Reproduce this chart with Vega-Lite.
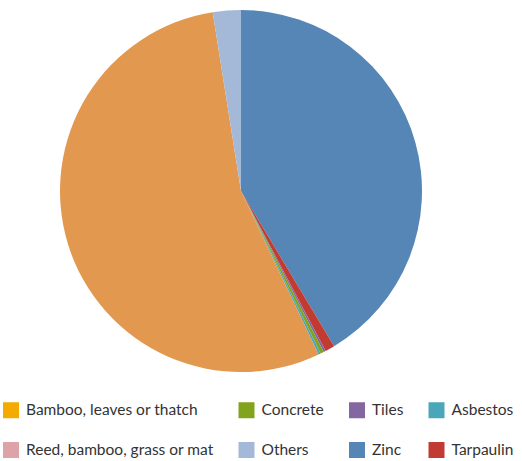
{
  "$schema": "https://vega.github.io/schema/vega-lite/v6.json",
  "width": 482,
  "height": 382,
  "padding": {"left": 0, "top": 0, "right": 40, "bottom": 79},
  "autosize": {"type": "none"},
  "background": "white",
  "data": {"values": [
    {"material": "Zinc", "share": 41.4, "ord": 1},
    {"material": "Tarpaulin", "share": 0.85, "ord": 2},
    {"material": "Tiles", "share": 0.2, "ord": 3},
    {"material": "Concrete", "share": 0.3, "ord": 4},
    {"material": "Asbestos", "share": 0.2, "ord": 5},
    {"material": "Bamboo, leaves or thatch", "share": 0.0, "ord": 6},
    {"material": "Reed, bamboo, grass or mat", "share": 0.0, "ord": 7},
    {"material": "Unlabelled", "share": 54.55, "ord": 8},
    {"material": "Others", "share": 2.5, "ord": 9}
  ]},
  "mark": {"type": "arc", "radius": 181, "stroke": null},
  "encoding": {
    "theta": {"field": "share", "type": "quantitative", "stack": true},
    "order": {"field": "ord", "type": "quantitative"},
    "color": {
      "field": "material",
      "type": "nominal",
      "scale": {
        "domain": ["Bamboo, leaves or thatch", "Concrete", "Tiles", "Asbestos", "Reed, bamboo, grass or mat", "Others", "Zinc", "Tarpaulin", "Unlabelled"],
        "range": ["#f4aa00", "#82a31c", "#8467a0", "#4aa7b9", "#dea3a6", "#a4b8d7", "#5586b6", "#c23b32", "#e2994f"]
      },
      "legend": {
        "values": ["Bamboo, leaves or thatch", "Concrete", "Tiles", "Asbestos", "Reed, bamboo, grass or mat", "Others", "Zinc", "Tarpaulin"],
        "title": null,
        "orient": "none",
        "legendX": 3,
        "legendY": 402,
        "direction": "horizontal",
        "columns": 4,
        "symbolType": "square",
        "symbolSize": 256,
        "symbolStrokeWidth": 0,
        "symbolOpacity": 1,
        "labelFont": "Lato",
        "labelFontSize": 15.5,
        "labelColor": "#333333",
        "labelOffset": 7,
        "labelLimit": 300,
        "columnPadding": 24.5,
        "rowPadding": 23
      }
    }
  },
  "config": {"view": {"stroke": null}}
}
